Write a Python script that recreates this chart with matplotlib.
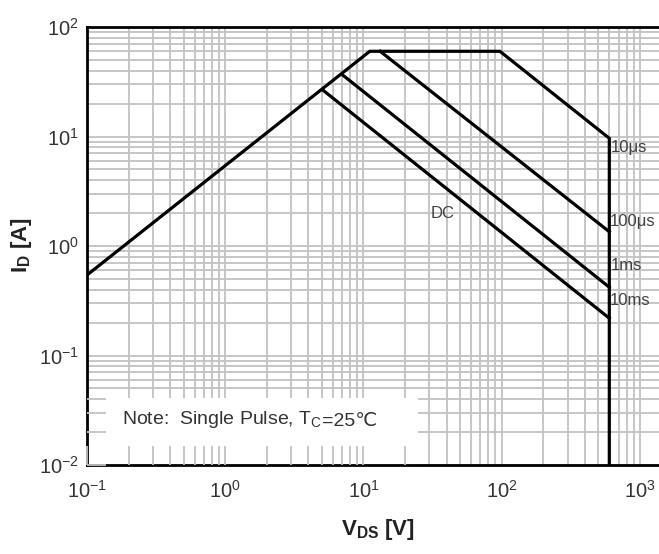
import matplotlib
matplotlib.use('Agg')
import numpy as np
import matplotlib.pyplot as plt
from matplotlib.ticker import LogLocator, FuncFormatter, NullFormatter
from matplotlib.patches import Rectangle

plt.rcParams['font.family'] = ['Liberation Sans', 'DejaVu Sans']
plt.rcParams['mathtext.fontset'] = 'custom'
plt.rcParams['mathtext.rm'] = 'Liberation Sans'
plt.rcParams['mathtext.it'] = 'Liberation Sans:italic'
plt.rcParams['mathtext.bf'] = 'Liberation Sans:bold'

# ---- data (V_DS [V], I_D [A]) ----
soa_v = [0.1, 11.1, 97, 600, 600]
soa_i = [0.543, 60, 60, 9.63, 0.01]
us100_v = [13.2, 600]
us100_i = [60, 1.35]
ms1_v = [6.96, 600]
ms1_i = [37, 0.42]
dc_v = [5.07, 600]
dc_i = [26.6, 0.219]

curve_labels = ['10\u03bcs', '100\u03bcs', '1ms', '10ms', 'DC']
label_v = [614, 607, 612, 608, 37.6]
label_i = [8.0, 1.66, 0.67, 0.32, 2.0]

xlim = (0.1, 1517)
ylim = (0.01, 100)

fig = plt.figure(figsize=(6.59, 5.54), dpi=100)
pos = [87 / 659, (554 - 465) / 554, 578 / 659, 438 / 554]
ax = fig.add_axes(pos)
ax.set_xscale('log')
ax.set_yscale('log')
ax.set_xlim(*xlim)
ax.set_ylim(*ylim)
ax.set_axisbelow(True)

grid_c = '#c2c2c2'


def setup_log_axis(a):
    for axis in (a.xaxis, a.yaxis):
        axis.set_major_locator(LogLocator(base=10, numticks=10))
        axis.set_minor_locator(LogLocator(base=10, subs=np.arange(2, 10), numticks=20))
        axis.set_minor_formatter(NullFormatter())
        axis.set_major_formatter(FuncFormatter(lambda v, p: r'$10^{%d}$' % int(round(np.log10(v)))))


setup_log_axis(ax)
ax.grid(True, which='both', color=grid_c, lw=1.3)
ax.tick_params(which='both', direction='in', length=0, labelsize=14.5, labelcolor='#333333')
ax.tick_params(axis='x', pad=11)
ax.tick_params(axis='y', pad=6)

# white note box covering grid
box_w, box_h = 0.573, 0.153
ax.add_patch(Rectangle((0, 0), box_w, box_h, transform=ax.transAxes,
                       facecolor='white', edgecolor='none', zorder=1))

# overlay axes (only the note box area) for tick stubs
lx0, lx1 = np.log10(xlim)
ly0, ly1 = np.log10(ylim)
pos2 = [pos[0], pos[1], pos[2] * box_w, pos[3] * box_h]
ax2 = fig.add_axes(pos2)
ax2.set_xscale('log')
ax2.set_yscale('log')
ax2.set_xlim(xlim[0], 10 ** (lx0 + box_w * (lx1 - lx0)))
ax2.set_ylim(ylim[0], 10 ** (ly0 + box_h * (ly1 - ly0)))
setup_log_axis(ax2)
ax2.patch.set_visible(False)
for s in ax2.spines.values():
    s.set_visible(False)
ax2.tick_params(which='both', direction='in', length=14, width=1.3, color=grid_c,
                labelbottom=False, labelleft=False)

lw = 2.3
ax.plot(soa_v, soa_i, color='black', lw=lw, zorder=3, solid_joinstyle='miter')
ax.plot(us100_v, us100_i, color='black', lw=lw, zorder=3)
ax.plot(ms1_v, ms1_i, color='black', lw=lw, zorder=3)
ax.plot(dc_v, dc_i, color='black', lw=lw, zorder=3)

for t, xv, yv in zip(curve_labels, label_v, label_i):
    ax.text(xv, yv, t, fontsize=12, color='#404040', ha='left' if t != 'DC' else 'center',
            va='center', zorder=4)

t1 = ax.text(0.061, 0.094, 'Note:  Single Pulse, T$_\\mathregular{C}$', transform=ax.transAxes,
             fontsize=14, color='#333333', ha='left', va='baseline', zorder=4)
ax.annotate('=25\u2103', xy=(1, 0), xycoords=t1, xytext=(0, 0), textcoords='offset points',
            fontsize=14, color='#333333', ha='left', va='bottom', zorder=4,
            family=['Liberation Sans', 'DejaVu Sans'])

for side in ('left', 'bottom', 'top'):
    ax.spines[side].set_linewidth(2.0)
    ax.spines[side].set_color('black')
    ax.spines[side].set_zorder(5)
ax.spines['right'].set_visible(False)

fig.text(22 / 659, 1 - 245 / 554, r'$\mathbf{I_D\ [A]}$', rotation=90, ha='center', va='center',
         fontsize=16, color='#222222')
fig.text(378 / 659, 1 - 530 / 554, r'$\mathbf{V_{DS}\ [V]}$', ha='center', va='center',
         fontsize=16, color='#222222')

fig.savefig('out.png', dpi=100)
